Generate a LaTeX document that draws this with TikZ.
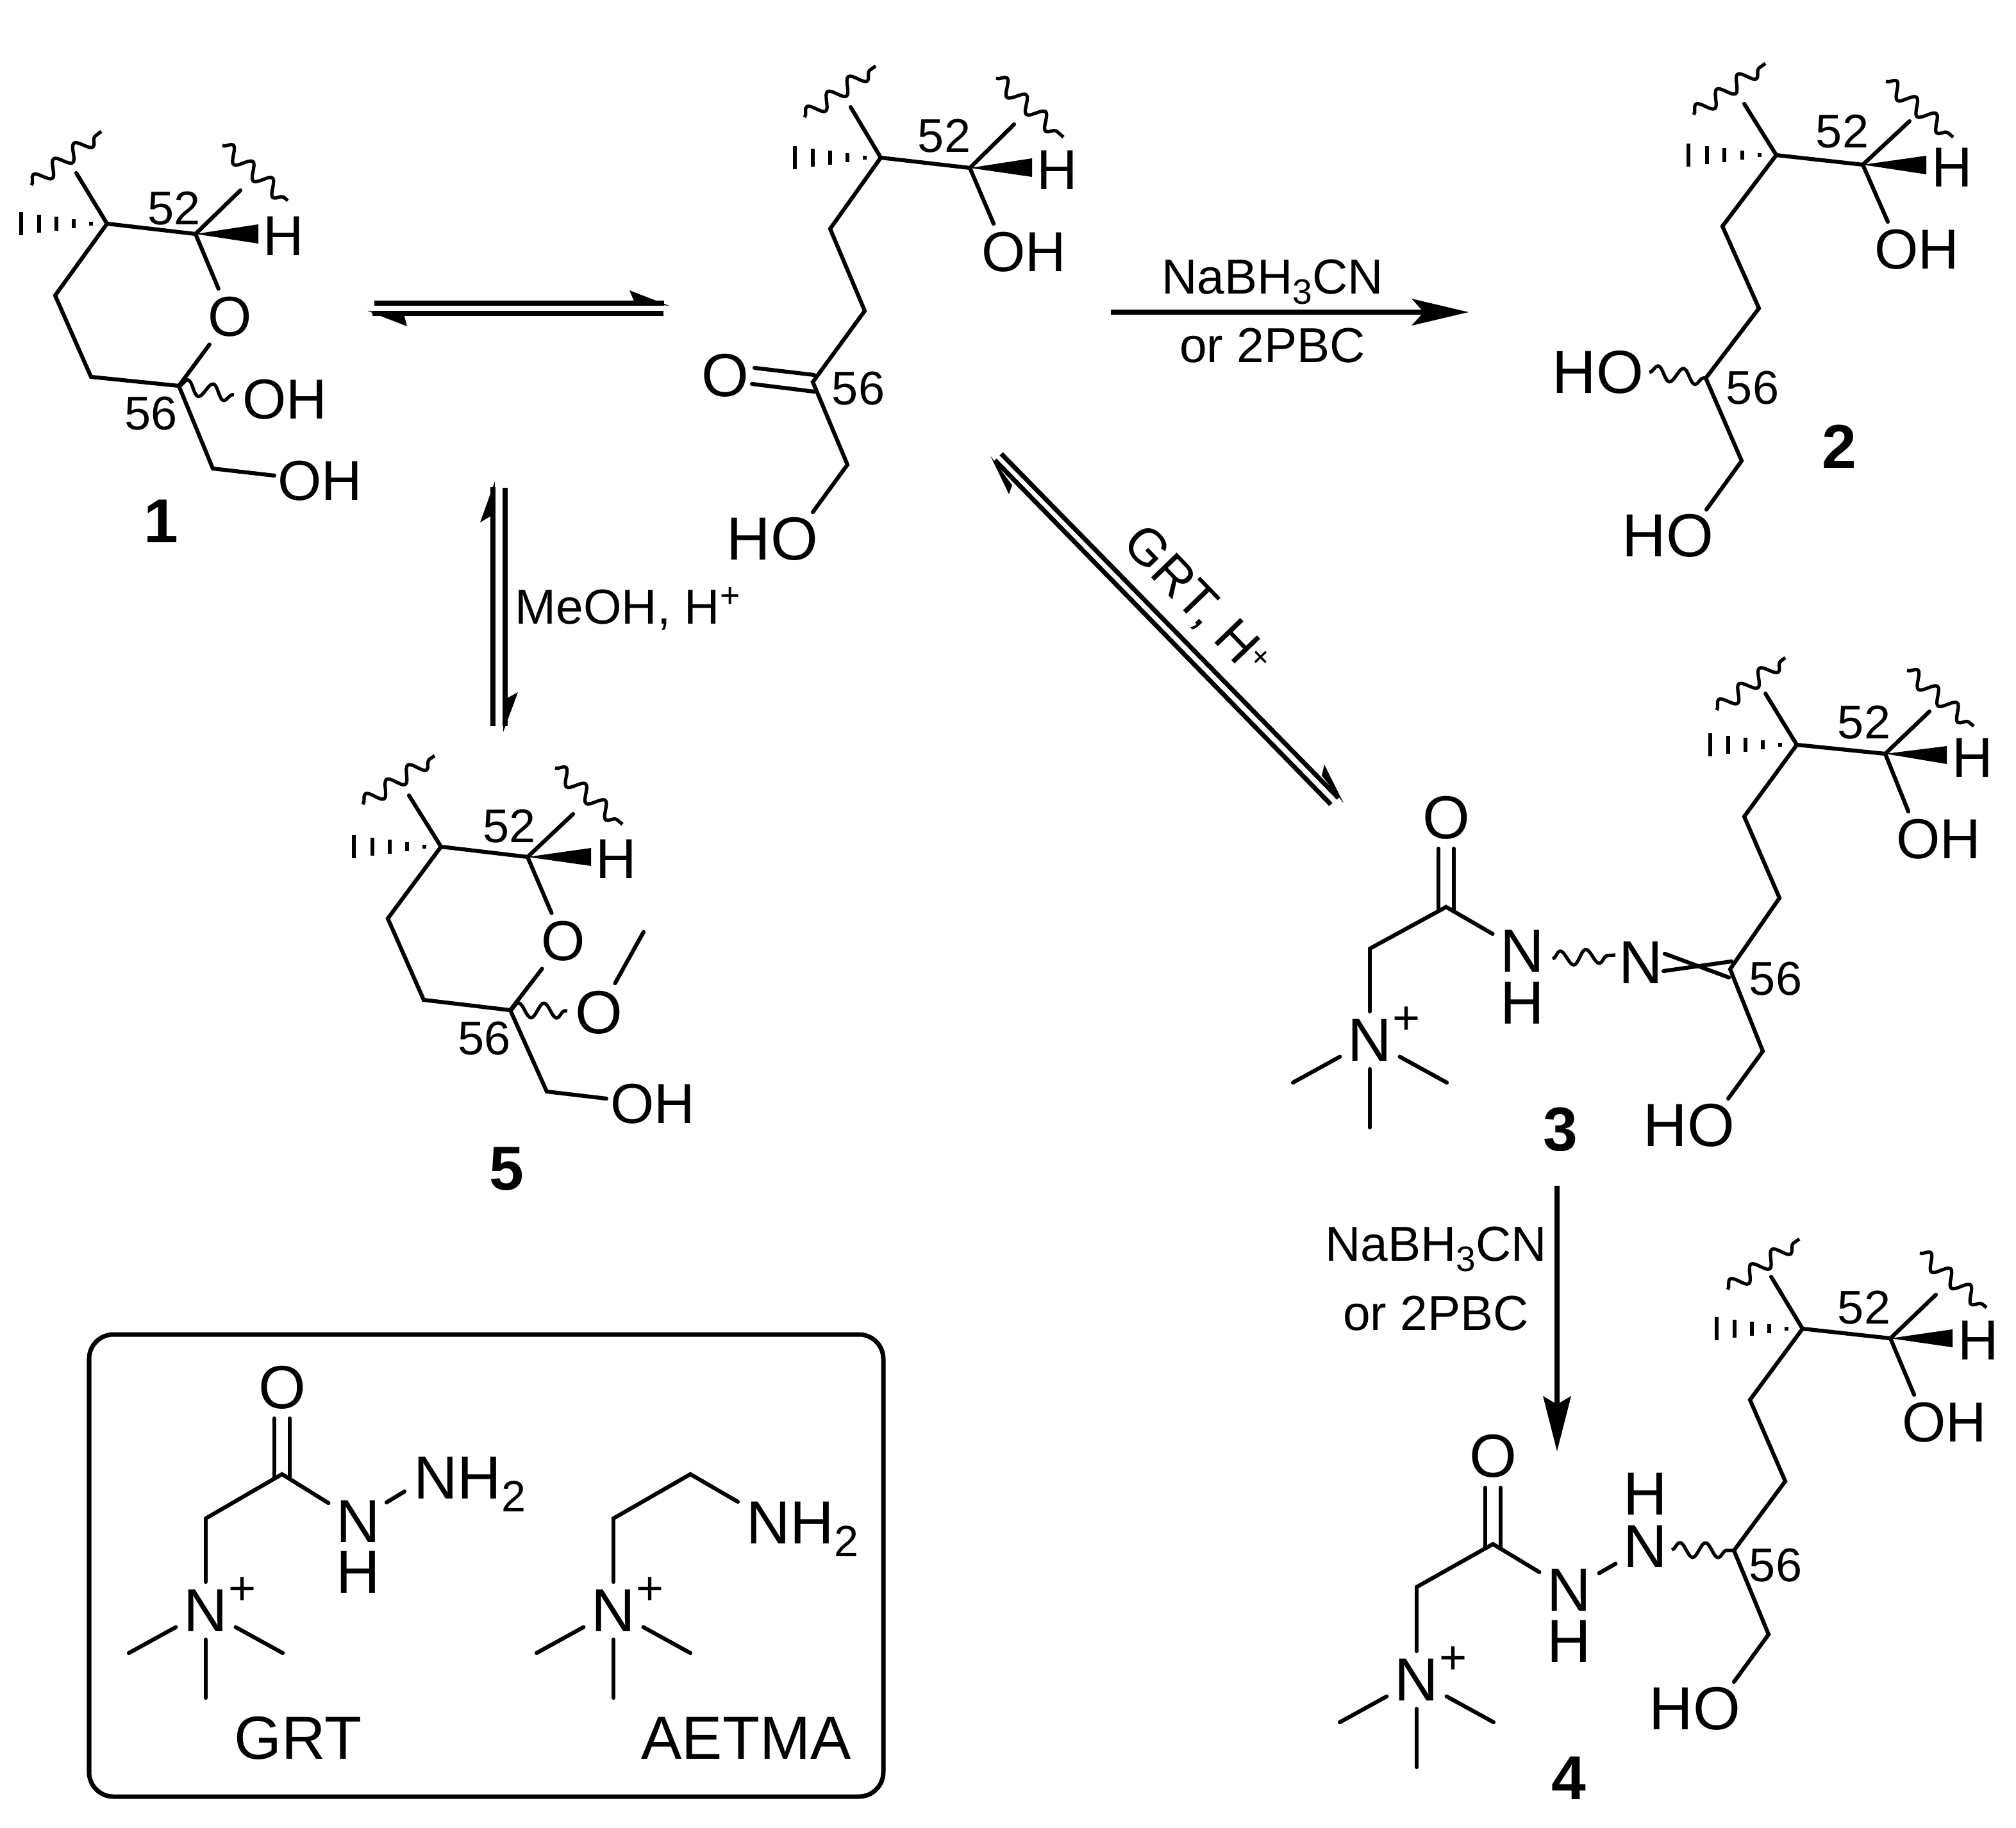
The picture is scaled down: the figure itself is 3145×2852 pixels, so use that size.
\documentclass[tikz,border=0pt]{standalone}
\usepackage{fontspec}
\usepackage{graphicx}
\setmainfont{Liberation Sans}
\usetikzlibrary{calc,decorations.pathmorphing}
\tikzset{
  bond/.style={line width=.062cm,line cap=round,line join=miter},
  wavy/.style={line width=.052cm,line join=round,decorate,decoration={snake,segment length=.40cm,amplitude=.115cm}},
  hashmark/.style={line width=.06cm},
  arrowline/.style={line width=.072cm},
  atom/.style={font=\fontsize{25}{25}\selectfont,inner sep=3.5pt,outer sep=0pt},
  atomL/.style={font=\fontsize{27}{27}\selectfont,inner sep=3.5pt,outer sep=0pt},
  plusmark/.style={font=\fontsize{21}{21}\selectfont,inner sep=0pt},
  numlab/.style={font=\fontsize{21}{21}\selectfont,inner sep=0pt},
  cpd/.style={font=\fontsize{27.5}{27.5}\selectfont\bfseries,inner sep=0pt},
  reagent/.style={font=\fontsize{21.8}{21.8}\selectfont,inner sep=0pt},
  boxlabel/.style={font=\fontsize{27}{27}\selectfont,inner sep=0pt}
}
\newcommand\lowidx[1]{\raisebox{-.22em}{\scalebox{.72}{#1}}}
% upper part shared by all open-chain and ring drawings: needs coordinates a,b,up,ur,wa..wd,wg1,wg2
\newcommand\crown[2]{%
  \draw[bond] (#1up)--(#1a)--(#1b)--(#1ur);
  \fill (#1b)--(#1wg1)--(#1wg2)--cycle;
  \draw[wavy] (#1wa)--(#1wb);
  \draw[wavy] (#1wc)--(#1wd);
  \foreach \hf in {.19,.39,.59,.79,1}{\draw[hashmark] ($(#1a)+({-\hf*#2},{-\hf*18})$)--($(#1a)+({-\hf*#2},{\hf*18})$);}
}
\newcommand\ammonium[3]{%
  \node[atomL] (#1N) at (#2,#3) {N};
  \node[plusmark] (#1P) at (#2+57,#3-31) {+};
  \coordinate (#1Ma) at (#2-120,#3+66);
  \coordinate (#1Mb) at (#2+120,#3+66);
  \coordinate (#1Mc) at (#2,#3+136);
  \draw[bond] (#1N)--(#1Ma);
  \draw[bond] (#1N)--(#1Mb);
  \draw[bond] (#1N)--(#1Mc);
}
\begin{document}
\begin{tikzpicture}[x=.01cm,y=-.01cm]
\useasboundingbox (0,0) rectangle (3145,2852);
\fill[white] (0,0) rectangle (3145,2852);

% ---------- compound 1
\coordinate (m1a) at (167,349); \coordinate (m1b) at (305,365);
\coordinate (m1c) at (86,461); \coordinate (m1d) at (142,588);
\coordinate (m1e) at (279,602); \coordinate (m1f) at (332,731);
\coordinate (m1up) at (119,270); \coordinate (m1ur) at (375,297);
\coordinate (m1wa) at (49,289); \coordinate (m1wb) at (158,205);
\coordinate (m1wc) at (347,227); \coordinate (m1wd) at (449,313);
\coordinate (m1wg1) at (403,350); \coordinate (m1wg2) at (403,380);
\node[atom] (m1O) at (359,494) {O};
\node[atom] (m1H) at (442,368) {H};
\node[atom] (m1OHa) at (444,623) {OH};
\node[atom] (m1OHb) at (499,750) {OH};
\node[numlab] (m1n52) at (272,325) {52};
\node[numlab] (m1n56) at (236,645) {56};
\node[cpd] (m1lab) at (251,813) {1};
\crown{m1}{134}
\draw[bond] (m1a)--(m1c)--(m1d)--(m1e)--(m1f)--([shift={(-71,-8)}]m1OHb.center);
\draw[bond] (m1b)--(m1O);
\draw[bond] (m1e)--(m1O);
\draw[wavy] (m1e)--([shift={(-79,-7)}]m1OHa.center);

% ---------- open-chain ketone
\coordinate (m0a) at (1374,246); \coordinate (m0b) at (1513,262);
\coordinate (m0c) at (1295,357); \coordinate (m0d) at (1349,485);
\coordinate (m0e) at (1268,596); \coordinate (m0f) at (1322,725);
\coordinate (m0up) at (1327,167); \coordinate (m0ur) at (1582,194);
\coordinate (m0wa) at (1255,183); \coordinate (m0wb) at (1366,103);
\coordinate (m0wc) at (1554,122); \coordinate (m0wd) at (1659,214);
\coordinate (m0wg1) at (1610,247); \coordinate (m0wg2) at (1610,276);
\node[atom] (m0H) at (1649,265) {H};
\node[atom] (m0OH) at (1597,393) {OH};
\node[atomL] (m0O) at (1131,586) {O};
\node[atomL] (m0HO) at (1205,841) {HO};
\node[numlab] (m0n52) at (1473,212) {52};
\node[numlab] (m0n56) at (1339,606) {56};
\crown{m0}{134}
\draw[bond] (m0a)--(m0c)--(m0d)--(m0e)--(m0f)--([shift={(63,-42)}]m0HO.center);
\draw[bond] (m0b)--([shift={(-47,-44)}]m0OH.center);
\draw[bond] ([shift={(46,-12)}]m0O.center)--([shift={(2,-11)}]m0e);
\draw[bond] ([shift={(42,13)}]m0O.center)--([shift={(2,15)}]m0e);

% ---------- compound 2
\coordinate (m2a) at (2771,242); \coordinate (m2b) at (2906,257);
\coordinate (m2c) at (2687,353); \coordinate (m2d) at (2744,481);
\coordinate (m2e) at (2661,590); \coordinate (m2f) at (2717,719);
\coordinate (m2up) at (2721,162); \coordinate (m2ur) at (2979,189);
\coordinate (m2wa) at (2642,179); \coordinate (m2wb) at (2754,99);
\coordinate (m2wc) at (2942,127); \coordinate (m2wd) at (3047,214);
\coordinate (m2wg1) at (3005,243); \coordinate (m2wg2) at (3005,272);
\node[atom] (m2H) at (3045,261) {H};
\node[atom] (m2OH) at (2990,389) {OH};
\node[atomL] (m2HOa) at (2493,581) {HO};
\node[atomL] (m2HOb) at (2602,836) {HO};
\node[numlab] (m2n52) at (2874,205) {52};
\node[numlab] (m2n56) at (2734,605) {56};
\node[cpd] (m2lab) at (2869,697) {2};
\crown{m2}{137}
\draw[bond] (m2a)--(m2c)--(m2d)--(m2e)--(m2f)--([shift={(60,-41)}]m2HOb.center);
\draw[bond] (m2b)--([shift={(-45,-43)}]m2OH.center);
\draw[wavy] ([shift={(80,0)}]m2HOa.center)--(m2e);

% ---------- compound 3
\coordinate (m3a) at (2803,1162); \coordinate (m3b) at (2941,1176);
\coordinate (m3c) at (2721,1274); \coordinate (m3d) at (2776,1401);
\coordinate (m3e) at (2699,1512); \coordinate (m3f) at (2750,1640);
\coordinate (m3up) at (2754,1082); \coordinate (m3ur) at (3010,1110);
\coordinate (m3wa) at (2678,1108); \coordinate (m3wb) at (2785,1026);
\coordinate (m3wc) at (2975,1046); \coordinate (m3wd) at (3079,1133);
\coordinate (m3wg1) at (3037,1164); \coordinate (m3wg2) at (3037,1192);
\coordinate (m3co) at (2256,1415); \coordinate (m3ch) at (2137,1480);
\node[atom] (m3H) at (3077,1182) {H};
\node[atom] (m3OH) at (3024,1309) {OH};
\node[atomL] (m3HO) at (2635,1756) {HO};
\node[atomL] (m3Nb) at (2560,1502) {N};
\node[atomL] (m3Na) at (2375,1484) {N};
\node[atomL] (m3Ha) at (2375,1565) {H};
\node[atomL] (m3O) at (2256,1276) {O};
\node[numlab] (m3n52) at (2908,1127) {52};
\node[numlab] (m3n56) at (2770,1527) {56};
\node[cpd] (m3lab) at (2434,1762) {3};
\crown{m3}{135}
\draw[bond] (m3a)--(m3c)--(m3d)--(m3e)--(m3f)--([shift={(61,-42)}]m3HO.center);
\draw[bond] (m3b)--([shift={(-47,-43)}]m3OH.center);
\draw[bond] ([shift={(37,-14)}]m3Nb.center)--([shift={(-2,13)}]m3e);
\draw[bond] ([shift={(35,13)}]m3Nb.center)--([shift={(2,-12)}]m3e);
\draw[wavy] ([shift={(47,12)}]m3Na.center)--([shift={(-40,-12)}]m3Nb.center);
\draw[bond] ([shift={(-12,48)}]m3O.center)--([shift={(-12,6)}]m3co);
\draw[bond] ([shift={(12,48)}]m3O.center)--([shift={(12,6)}]m3co);
\draw[bond] (m3Na)--(m3co)--(m3ch);
\ammonium{m3q}{2137}{1623}
\draw[bond] (m3ch)--(m3qN);

% ---------- compound 4
\coordinate (m4a) at (2812,2073); \coordinate (m4b) at (2949,2088);
\coordinate (m4c) at (2730,2184); \coordinate (m4d) at (2785,2311);
\coordinate (m4e) at (2705,2419); \coordinate (m4f) at (2759,2550);
\coordinate (m4up) at (2763,1992); \coordinate (m4ur) at (3020,2020);
\coordinate (m4wa) at (2695,2012); \coordinate (m4wb) at (2807,1933);
\coordinate (m4wc) at (2995,1955); \coordinate (m4wd) at (3099,2040);
\coordinate (m4wg1) at (3046,2074); \coordinate (m4wg2) at (3046,2102);
\coordinate (m4co) at (2329,2409); \coordinate (m4ch) at (2210,2476);
\node[atom] (m4H) at (3086,2091) {H};
\node[atom] (m4OH) at (3033,2219) {OH};
\node[atomL] (m4HO) at (2644,2666) {HO};
\node[atomL] (m4Hb) at (2567,2331) {H};
\node[atomL] (m4Nb) at (2567,2413) {N};
\node[atomL] (m4Na) at (2448,2481) {N};
\node[atomL] (m4Ha) at (2448,2561) {H};
\node[atomL] (m4O) at (2329,2272) {O};
\node[numlab] (m4n52) at (2908,2040) {52};
\node[numlab] (m4n56) at (2770,2442) {56};
\node[cpd] (m4lab) at (2447,2774) {4};
\crown{m4}{134}
\draw[bond] (m4a)--(m4c)--(m4d)--(m4e)--(m4f)--([shift={(61,-42)}]m4HO.center);
\draw[bond] (m4b)--([shift={(-47,-43)}]m4OH.center);
\draw[wavy] ([shift={(41,5)}]m4Nb.center)--(m4e);
\draw[bond] (m4Nb)--(m4Na);
\draw[bond] ([shift={(-12,49)}]m4O.center)--([shift={(-12,6)}]m4co);
\draw[bond] ([shift={(12,49)}]m4O.center)--([shift={(12,6)}]m4co);
\draw[bond] (m4Na)--(m4co)--(m4ch);
\ammonium{m4q}{2210}{2621}
\draw[bond] (m4ch)--(m4qN);

% ---------- compound 5
\coordinate (m5a) at (688,1321); \coordinate (m5b) at (823,1337);
\coordinate (m5c) at (605,1433); \coordinate (m5d) at (661,1560);
\coordinate (m5e) at (796,1576); \coordinate (m5f) at (853,1703);
\coordinate (m5up) at (638,1241); \coordinate (m5ur) at (894,1270);
\coordinate (m5wa) at (566,1255); \coordinate (m5wb) at (678,1179);
\coordinate (m5wc) at (866,1198); \coordinate (m5wd) at (971,1286);
\coordinate (m5wg1) at (922,1323); \coordinate (m5wg2) at (922,1351);
\coordinate (m5me) at (1004,1454);
\node[atom] (m5H) at (961,1340) {H};
\node[atom] (m5Oa) at (879,1468) {O};
\node[atomL] (m5Ob) at (934,1580) {O};
\node[atom] (m5OH) at (1018,1722) {OH};
\node[numlab] (m5n52) at (795,1289) {52};
\node[numlab] (m5n56) at (756,1620) {56};
\node[cpd] (m5lab) at (790,1824) {5};
\crown{m5}{136}
\draw[bond] (m5a)--(m5c)--(m5d)--(m5e)--(m5f)--([shift={(-72,-8)}]m5OH.center);
\draw[bond] (m5b)--(m5Oa);
\draw[bond] (m5e)--(m5Oa);
\draw[bond] (m5Ob)--(m5me);
\draw[wavy] (m5e)--([shift={(-49,-3)}]m5Ob.center);

% ---------- equilibrium 1 / ketone
\coordinate (e1a) at (584,473); \coordinate (e1b) at (1036,473);
\coordinate (e1t) at (1044,477); \coordinate (e1u) at (982,453); \coordinate (e1v) at (990,472);
\coordinate (e1c) at (1035,489); \coordinate (e1d) at (581,489);
\coordinate (e1s) at (573,485); \coordinate (e1w) at (635,509); \coordinate (e1x) at (630,490);
\draw[arrowline] (e1a)--(e1b);
\fill (e1t)--(e1u)--(e1v)--cycle;
\draw[arrowline] (e1c)--(e1d);
\fill (e1s)--(e1w)--(e1x)--cycle;

% ---------- equilibrium 1 / 5
\coordinate (e2a) at (769,1133); \coordinate (e2b) at (769,760);
\coordinate (e2t) at (772,751); \coordinate (e2u) at (749,815); \coordinate (e2v) at (771,802);
\coordinate (e2c) at (788,761); \coordinate (e2d) at (788,1133);
\coordinate (e2s) at (785,1142); \coordinate (e2w) at (808,1080); \coordinate (e2x) at (786,1092);
\draw[arrowline] (e2a)--(e2b);
\fill (e2t)--(e2u)--(e2v)--cycle;
\draw[arrowline] (e2c)--(e2d);
\fill (e2s)--(e2w)--(e2x)--cycle;
\node[reagent,anchor=west] (e2lab) at (803,950) {MeOH, H\textsuperscript{+}};

% ---------- equilibrium ketone / 3
\coordinate (e3a) at (2076,1255); \coordinate (e3b) at (1552,718);
\coordinate (e3t) at (1545,711); \coordinate (e3u) at (1574,771); \coordinate (e3v) at (1579,757);
\coordinate (e3c) at (1562,708); \coordinate (e3d) at (2088,1245);
\coordinate (e3s) at (2096,1253); \coordinate (e3w) at (2066,1193); \coordinate (e3x) at (2062,1210);
\draw[arrowline] (e3a)--(e3b);
\fill (e3t)--(e3u)--(e3v)--cycle;
\draw[arrowline] (e3c)--(e3d);
\fill (e3s)--(e3w)--(e3x)--cycle;
\node[reagent,rotate=-46,font=\fontsize{23}{23}\selectfont] (e3lab) at (1866,940) {GRT, H\raisebox{.25em}{\scalebox{.6}{+}}};

% ---------- ketone -> 2
\coordinate (r1a) at (1733,487); \coordinate (r1b) at (2225,487);
\coordinate (r1t) at (2291,487); \coordinate (r1u) at (2202,466); \coordinate (r1v) at (2221,487); \coordinate (r1w) at (2202,508);
\draw[arrowline] (r1a)--(r1b);
\fill (r1t)--(r1u)--(r1v)--(r1w)--cycle;
\node[reagent] (r1top) at (1985,440) {NaBH\lowidx{3}CN};
\node[reagent] (r1bot) at (1985,539) {or 2PBC};

% ---------- 3 -> 4
\coordinate (r2a) at (2429,1850); \coordinate (r2b) at (2429,2195);
\coordinate (r2t) at (2429,2264); \coordinate (r2u) at (2407,2178); \coordinate (r2v) at (2429,2191); \coordinate (r2w) at (2451,2178);
\draw[arrowline] (r2a)--(r2b);
\fill (r2t)--(r2u)--(r2v)--(r2w)--cycle;
\node[reagent] (r2top) at (2240,1949) {NaBH\lowidx{3}CN};
\node[reagent] (r2bot) at (2240,2049) {or 2PBC};

% ---------- inset box
\draw[line width=.07cm,rounded corners=.38cm] (139,2082) rectangle (1378,2803);
% GRT
\coordinate (g1co) at (440,2300); \coordinate (g1ch) at (321,2369);
\node[atomL] (g1O) at (440,2165) {O};
\node[atomL] (g1Na) at (559,2374) {N};
\node[atomL] (g1Ha) at (559,2453) {H};
\node[atomL,anchor=base west,inner sep=0pt] (g1Nb) at (645,2338) {NH\lowidx{2}};
\node[boxlabel] (g1lab) at (465,2712) {GRT};
\draw[bond] ([shift={(-12,48)}]g1O.center)--([shift={(-12,6)}]g1co);
\draw[bond] ([shift={(12,48)}]g1O.center)--([shift={(12,6)}]g1co);
\draw[bond] (g1Na)--(g1co)--(g1ch);
\coordinate (g1nn) at (631,2327);
\draw[bond] ([shift={(44,-30)}]g1Na.center)--(g1nn);
\ammonium{g1q}{321}{2513}
\draw[bond] (g1ch)--(g1qN);
% AETMA
\coordinate (g2a) at (1077,2300); \coordinate (g2ch) at (957,2369);
\node[atomL,anchor=base west,inner sep=0pt] (g2N) at (1164,2408) {NH\lowidx{2}};
\node[boxlabel] (g2lab) at (1164,2712) {AETMA};
\draw[bond] ([shift={(-13,-65)}]g2N.base west)--(g2a)--(g2ch);
\ammonium{g2q}{957}{2513}
\draw[bond] (g2ch)--(g2qN);
\end{tikzpicture}
\end{document}
